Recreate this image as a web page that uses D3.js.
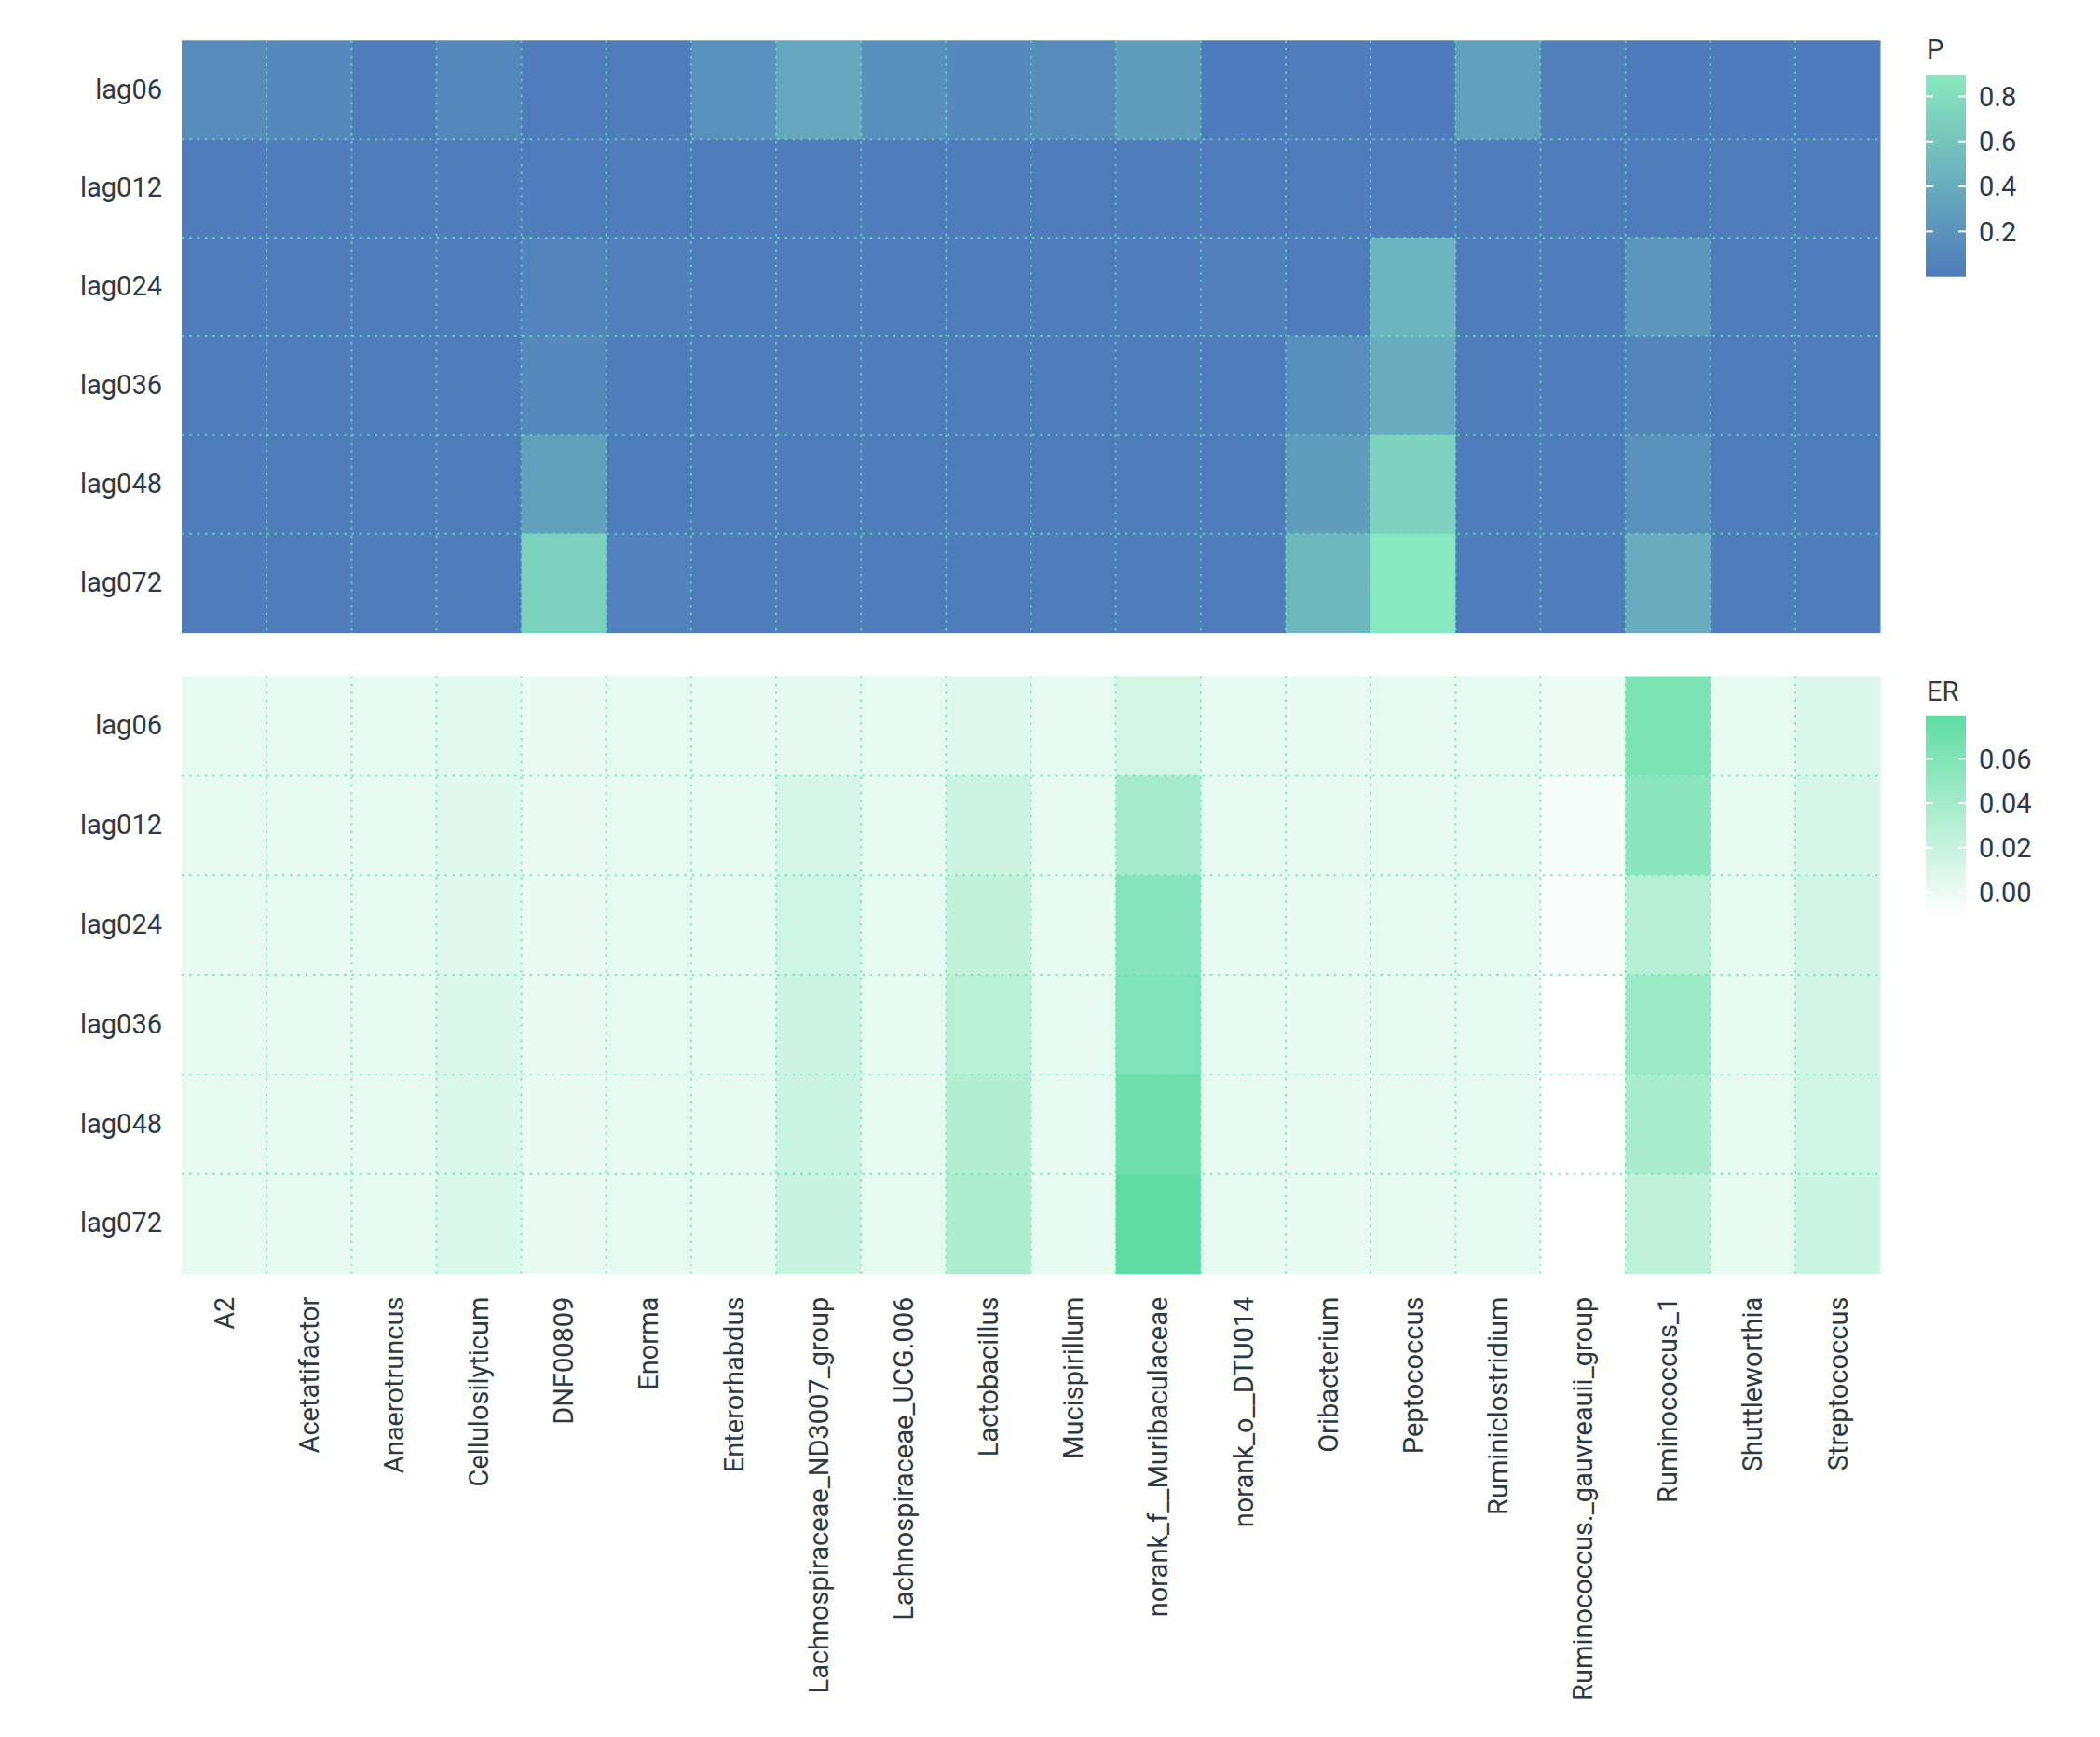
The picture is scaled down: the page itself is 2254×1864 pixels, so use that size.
<!DOCTYPE html>
<html>
<head>
<meta charset="utf-8">
<script src="https://cdn.jsdelivr.net/npm/d3@7"></script>
<style>
  body { margin: 0; background: #fff; }
  text { font-family: Roboto, "Noto Sans", sans-serif; fill: #2e3a40; }
</style>
</head>
<body>
<svg id="chart" width="2254" height="1864"></svg>
<script>
// genera along x, lags along y
const genera = ['A2', 'Acetatifactor', 'Anaerotruncus', 'Cellulosilyticum', 'DNF00809', 'Enorma',
  'Enterorhabdus', 'Lachnospiraceae_ND3007_group', 'Lachnospiraceae_UCG.006', 'Lactobacillus',
  'Mucispirillum', 'norank_f__Muribaculaceae', 'norank_o__DTU014', 'Oribacterium', 'Peptococcus',
  'Ruminiclostridium', 'Ruminococcus._gauvreauii_group', 'Ruminococcus_1', 'Shuttleworthia', 'Streptococcus']
const lags = ['lag06', 'lag012', 'lag024', 'lag036', 'lag048', 'lag072']

// P values, one row per lag
const pValues = [
  [0.13, 0.11, 0.01, 0.10, 0.01, 0.01, 0.17, 0.36, 0.16, 0.11, 0.13, 0.28, 0.00, 0.02, 0.00, 0.30, 0.03, 0.00, 0.00, 0.00],
  [0.01, 0.01, 0.01, 0.01, 0.01, 0.01, 0.01, 0.01, 0.01, 0.01, 0.01, 0.01, 0.01, 0.01, 0.01, 0.01, 0.01, 0.01, 0.01, 0.01],
  [0.01, 0.01, 0.01, 0.01, 0.07, 0.05, 0.01, 0.01, 0.01, 0.01, 0.01, 0.01, 0.05, 0.01, 0.47, 0.01, 0.01, 0.22, 0.01, 0.01],
  [0.01, 0.01, 0.01, 0.01, 0.11, 0.02, 0.01, 0.01, 0.01, 0.01, 0.01, 0.01, 0.01, 0.16, 0.40, 0.01, 0.01, 0.07, 0.01, 0.01],
  [0.01, 0.01, 0.01, 0.01, 0.31, 0.01, 0.01, 0.01, 0.01, 0.01, 0.01, 0.01, 0.01, 0.28, 0.72, 0.01, 0.01, 0.17, 0.01, 0.01],
  [0.01, 0.01, 0.01, 0.01, 0.70, 0.06, 0.01, 0.01, 0.01, 0.01, 0.01, 0.01, 0.01, 0.50, 0.894, 0.01, 0.01, 0.40, 0.01, 0.01]
]

// ER values, one row per lag
const erValues = [
  [0.003, 0.003, 0.003, 0.005, 0.002, 0.003, 0.003, 0.0035, 0.003, 0.007, 0.003, 0.013, 0.003, 0.003, 0.003, 0.003, -0.002, 0.062, 0.003, 0.009],
  [0.003, 0.003, 0.003, 0.006, 0.002, 0.003, 0.003, 0.012, 0.003, 0.017, 0.003, 0.039, 0.003, 0.003, 0.003, 0.003, -0.0065, 0.054, 0.003, 0.012],
  [0.003, 0.003, 0.003, 0.006, 0.002, 0.003, 0.003, 0.016, 0.003, 0.023, 0.003, 0.056, 0.003, 0.003, 0.003, 0.003, -0.0076, 0.030, 0.003, 0.014],
  [0.003, 0.003, 0.003, 0.009, 0.002, 0.003, 0.003, 0.017, 0.003, 0.028, 0.003, 0.061, 0.003, 0.003, 0.003, 0.003, -0.011, 0.044, 0.003, 0.014],
  [0.003, 0.003, 0.003, 0.009, 0.002, 0.003, 0.003, 0.018, 0.003, 0.031, 0.003, 0.070, 0.003, 0.003, 0.003, 0.003, -0.011, 0.037, 0.003, 0.016],
  [0.003, 0.003, 0.003, 0.010, 0.002, 0.003, 0.003, 0.019, 0.003, 0.035, 0.003, 0.0796, 0.003, 0.003, 0.003, 0.003, -0.011, 0.024, 0.003, 0.0175]
]

const pTicks = [0.2, 0.4, 0.6, 0.8]
const erTicks = [0, 0.02, 0.04, 0.06]

const svg = d3.select('#chart')
svg.append('rect').attr('width', 2254).attr('height', 1864).attr('fill', '#fff')

const x = d3.scaleBand().domain(genera).range([195, 2018])

const panels = [
  { name: 'P', values: pValues, top: 43.3, bottom: 678.6, lo: '#4e7bbb', hi: '#88e8bf',
    ticks: pTicks, fmt: d3.format('.1f'), barTop: 80.7, titleY: 63 },
  { name: 'ER', values: erValues, top: 725.5, bottom: 1366.6, lo: '#ffffff', hi: '#5ddca3',
    ticks: erTicks, fmt: d3.format('.2f'), barTop: 767.7, titleY: 752 }
]

const barLen = 216
const barX = 2067, barW = 43

panels.forEach((p, pi) => {
  const y = d3.scaleBand().domain(lags).range([p.top, p.bottom])
  const ext = d3.extent(p.values.flat())
  const color = d3.scaleLinear().domain(ext).range([p.lo, p.hi]).interpolate(d3.interpolateRgb)

  const cells = []
  p.values.forEach((row, r) => row.forEach((v, c) => cells.push({ lag: lags[r], g: genera[c], v })))

  const g = svg.append('g')
  g.selectAll('rect.cell')
    .data(cells)
    .join('rect')
    .attr('class', 'cell')
    .attr('x', d => x(d.g))
    .attr('y', d => y(d.lag))
    .attr('width', x.bandwidth() + 0.5)
    .attr('height', y.bandwidth() + 0.5)
    .attr('fill', d => color(d.v))

  // dotted grid at cell boundaries
  const grid = g.append('g')
    .attr('stroke', '#5ee6ad')
    .attr('stroke-opacity', 0.8)
    .attr('stroke-width', 1.9)
    .attr('stroke-dasharray', '2.5,5.8')
  grid.selectAll('line.v')
    .data(genera.slice(1))
    .join('line')
    .attr('x1', d => x(d)).attr('x2', d => x(d))
    .attr('y1', p.top).attr('y2', p.bottom)
  grid.selectAll('line.h')
    .data(lags.slice(1))
    .join('line')
    .attr('x1', x.range()[0]).attr('x2', x.range()[1])
    .attr('y1', d => y(d)).attr('y2', d => y(d))

  // y axis
  const ya = svg.append('g')
    .attr('transform', `translate(${x.range()[0]},0)`)
    .call(d3.axisLeft(y).tickSize(0).tickPadding(21))
  ya.select('.domain').remove()
  ya.selectAll('text')
    .attr('font-size', 29)
    .attr('font-family', 'Roboto')
    .attr('fill', '#2e3a40')

  // colour bar
  const cb = svg.append('g')
  const gradId = 'grad' + pi
  const grad = svg.append('defs').append('linearGradient')
    .attr('id', gradId).attr('x1', 0).attr('x2', 0).attr('y1', 1).attr('y2', 0)
  grad.selectAll('stop').data([0, 0.25, 0.5, 0.75, 1]).join('stop')
    .attr('offset', d => d)
    .attr('stop-color', d => color(ext[0] + d * (ext[1] - ext[0])))
  const cbScale = d3.scaleLinear().domain(ext).range([p.barTop + barLen, p.barTop])
  cb.append('rect')
    .attr('x', barX).attr('y', p.barTop)
    .attr('width', barW).attr('height', barLen)
    .attr('fill', `url(#${gradId})`)
  cb.selectAll('line.tl').data(p.ticks).join('line')
    .attr('x1', barX).attr('x2', barX + 8)
    .attr('y1', d => cbScale(d)).attr('y2', d => cbScale(d))
    .attr('stroke', '#fff').attr('stroke-width', 2)
  cb.selectAll('line.tr').data(p.ticks).join('line')
    .attr('x1', barX + barW - 8).attr('x2', barX + barW)
    .attr('y1', d => cbScale(d)).attr('y2', d => cbScale(d))
    .attr('stroke', '#fff').attr('stroke-width', 2)
  cb.selectAll('text.tick').data(p.ticks).join('text')
    .attr('x', 2124)
    .attr('y', d => cbScale(d))
    .attr('dy', '0.35em')
    .attr('font-size', 29)
    .text(d => p.fmt(d))
  cb.append('text')
    .attr('x', 2068).attr('y', p.titleY)
    .attr('font-size', 29)
    .text(p.name)

  // x axis under the lower panel only
  if (pi === 1) {
    const xa = svg.append('g')
      .attr('transform', `translate(0,${p.bottom})`)
      .call(d3.axisBottom(x).tickSize(0))
    xa.select('.domain').remove()
    xa.selectAll('text')
      .attr('font-size', 29)
      .attr('font-family', 'Roboto')
      .attr('fill', '#2e3a40')
      .attr('text-anchor', 'end')
      .attr('transform', 'rotate(-90)')
      .attr('x', -25)
      .attr('y', 0)
      .attr('dy', '0.35em')
  }
})
</script>
</body>
</html>
